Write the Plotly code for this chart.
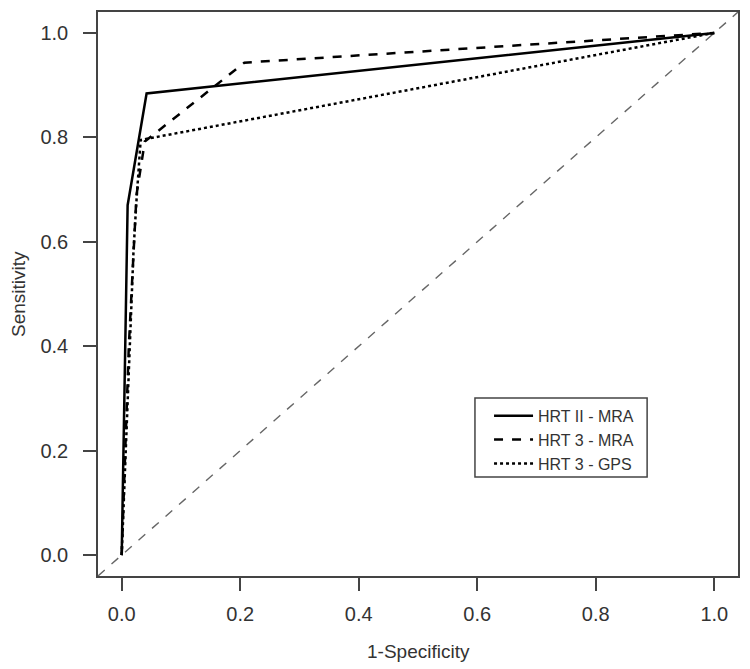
import plotly.graph_objects as go

# Data
hrt2_mra_fpr = [0.0, 0.010, 0.042, 1.0]
hrt2_mra_tpr = [0.0, 0.670, 0.884, 1.0]

hrt3_mra_fpr = [0.0, 0.012, 0.025, 0.039, 0.207, 1.0]
hrt3_mra_tpr = [0.0, 0.400, 0.690, 0.792, 0.943, 1.0]

hrt3_gps_fpr = [0.0, 0.007, 0.0135, 0.020, 0.025, 0.032, 1.0]
hrt3_gps_tpr = [0.0, 0.200, 0.375, 0.585, 0.680, 0.795, 1.0]

series_names = ["HRT II - MRA", "HRT 3 - MRA", "HRT 3 - GPS"]
tick_vals = [0.0, 0.2, 0.4, 0.6, 0.8, 1.0]
tick_text = ["0.0", "0.2", "0.4", "0.6", "0.8", "1.0"]
axis_range = [-0.04, 1.04]
x_title = "1-Specificity"
y_title = "Sensitivity"

FONT = "Liberation Sans, Arial, sans-serif"
TXT = "#333333"

fig = go.Figure()

# chance diagonal spanning the plotting region (y = x)
fig.add_trace(go.Scatter(x=axis_range, y=axis_range, mode="lines",
                         line=dict(color="#666666", width=1.4, dash="dash"),
                         showlegend=False, hoverinfo="skip"))

fig.add_trace(go.Scatter(x=hrt2_mra_fpr, y=hrt2_mra_tpr, mode="lines", name=series_names[0],
                         line=dict(color="black", width=2.5, dash="solid")))
fig.add_trace(go.Scatter(x=hrt3_mra_fpr, y=hrt3_mra_tpr, mode="lines", name=series_names[1],
                         line=dict(color="black", width=2.5, dash="dash")))
fig.add_trace(go.Scatter(x=hrt3_gps_fpr, y=hrt3_gps_tpr, mode="lines", name=series_names[2],
                         line=dict(color="black", width=2.5, dash="dot")))

axis_common = dict(
    range=axis_range, showgrid=False, zeroline=False, automargin=False,
    showline=True, mirror=True, linecolor="#444444", linewidth=1.5,
    ticks="outside", ticklen=13, tickwidth=1.5, tickcolor="#444444",
    tickvals=tick_vals, ticktext=tick_text,
    tickfont=dict(family=FONT, size=20, color=TXT),
)

fig.update_xaxes(**axis_common, ticklabelstandoff=6)
fig.update_yaxes(**axis_common, ticklabelstandoff=11)

fig.add_annotation(text=x_title, xref="paper", yref="paper", x=0.5, y=-0.133,
                   xanchor="center", yanchor="middle", showarrow=False,
                   font=dict(family=FONT, size=19, color=TXT))
fig.add_annotation(text=y_title, xref="paper", yref="paper", x=-0.125, y=0.5,
                   xanchor="center", yanchor="middle", showarrow=False, textangle=-90,
                   font=dict(family=FONT, size=19, color=TXT))

# legend frame (drawn as a paper-referenced box around the borderless legend)
fig.add_shape(type="rect", xref="paper", yref="paper",
              x0=0.589, x1=0.858, y0=0.1755, y1=0.3156,
              line=dict(color="#444444", width=1.5), fillcolor="rgba(0,0,0,0)", layer="above")

# page body has an 8px default margin; size the figure so the plot box lands where it should
fig.update_layout(
    width=742, height=661,
    margin=dict(l=90, r=12, t=4, b=93),
    plot_bgcolor="white", paper_bgcolor="white",
    font=dict(family=FONT, color=TXT),
    legend=dict(x=0.611, y=0.314, xanchor="left", yanchor="top",
                borderwidth=0, bgcolor="rgba(0,0,0,0)",
                font=dict(family=FONT, size=16, color=TXT),
                tracegroupgap=0, itemwidth=39),
    showlegend=True,
)

fig.write_html("out.html")
